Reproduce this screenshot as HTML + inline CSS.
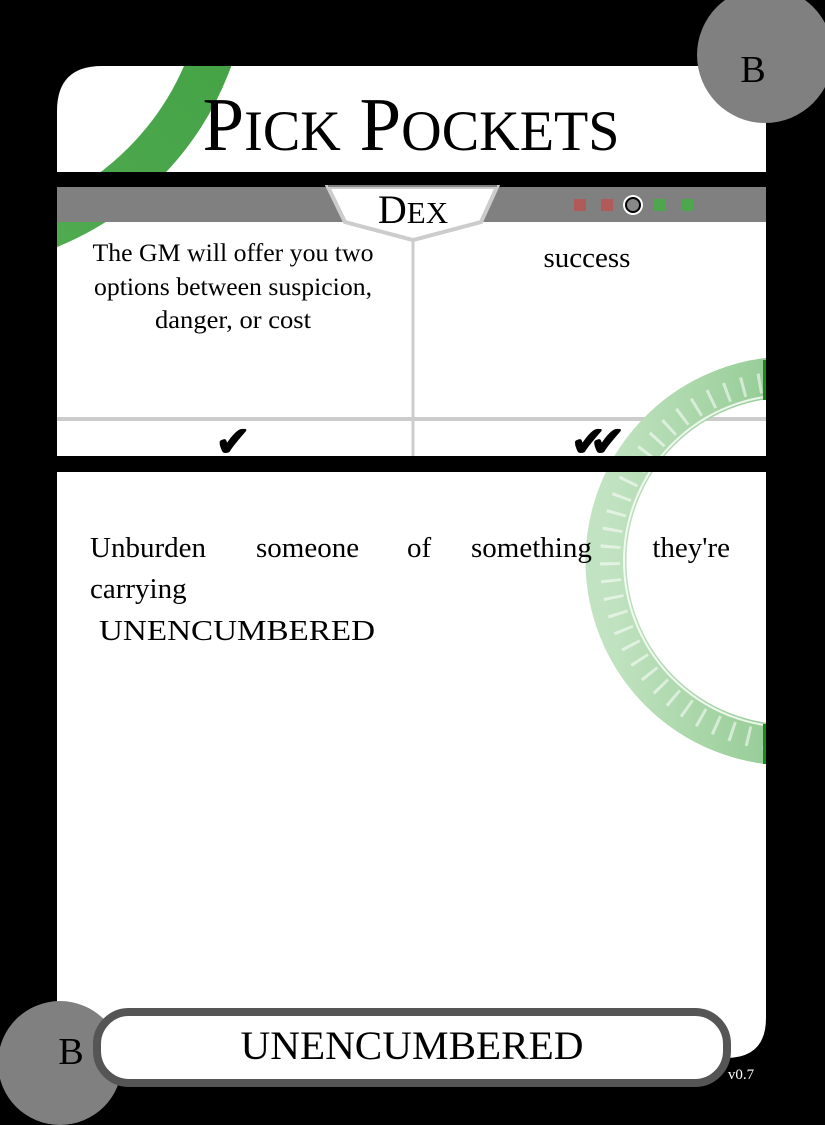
<!DOCTYPE html>
<html><head><meta charset="utf-8"><style>
html,body{margin:0;padding:0;background:#000;}
svg{display:block;}
text{font-family:"Liberation Serif",serif;}
</style></head><body>
<svg width="825" height="1125" viewBox="0 0 825 1125">
<defs>
<linearGradient id="gr1" x1="0" y1="1" x2="1" y2="0"><stop offset="0" stop-color="#5cb35c"/><stop offset="1" stop-color="#3a9a3a"/></linearGradient>
<linearGradient id="gr2" x1="0" y1="0.5" x2="1" y2="0.5"><stop offset="0" stop-color="#c2e3c2"/><stop offset="1" stop-color="#5fb05f"/></linearGradient>
<clipPath id="cardclip"><rect x="57" y="66" width="709" height="992"/></clipPath>
</defs>
<rect width="825" height="1125" fill="#000"/>
<path d="M57,172 V111 Q57,66 102,66 H766 V172 Z" fill="#fff"/>
<rect x="57" y="187" width="709" height="269" fill="#fff"/>
<path d="M57,472 H766 V1018 Q766,1058 726,1058 H57 Z" fill="#fff"/>
<g clip-path="url(#cardclip)">
 <clipPath id="c1"><rect x="57" y="66" width="709" height="106"/><rect x="57" y="187" width="709" height="269"/></clipPath>
 <circle cx="-60" cy="-40" r="288" fill="none" stroke="url(#gr1)" stroke-width="44" clip-path="url(#c1)"/>
</g>
<rect x="57" y="187" width="709" height="35" fill="#808080"/>
<polygon points="328,187 497,187 481,222 413,240 345,222" fill="#fff" stroke="#ccc" stroke-width="4"/>
<rect x="328" y="185" width="169" height="2" fill="#808080"/>
<text x="413" y="223" text-anchor="middle" font-size="40">D<tspan font-size="31">EX</tspan></text>
<rect x="574" y="199" width="12" height="12" fill="#b05a5a"/>
<rect x="601" y="199" width="12" height="12" fill="#b05a5a"/>
<circle cx="633" cy="205" r="10" fill="#fff"/>
<circle cx="633" cy="205" r="7" fill="#888" stroke="#000" stroke-width="2"/>
<rect x="654" y="199" width="12" height="12" fill="#4ea64e"/>
<rect x="681" y="199" width="12" height="12" fill="#4ea64e"/>
<line x1="413" y1="240" x2="413" y2="456" stroke="#ccc" stroke-width="3"/>
<line x1="57" y1="419" x2="766" y2="419" stroke="#ccc" stroke-width="4"/>
<g font-size="25" text-anchor="middle">
<text x="233" y="261" textLength="281" lengthAdjust="spacingAndGlyphs">The GM will offer you two</text>
<text x="233" y="295" textLength="278" lengthAdjust="spacingAndGlyphs">options between suspicion,</text>
<text x="233" y="328" textLength="156" lengthAdjust="spacingAndGlyphs">danger, or cost</text>
</g>
<text x="587" y="267" font-size="29" text-anchor="middle">success</text>
<text x="233" y="456" font-size="42" text-anchor="middle" font-family="DejaVu Sans" font-weight="bold">✔</text>
<text x="590" y="456" font-size="42" text-anchor="middle" font-family="DejaVu Sans" font-weight="bold" letter-spacing="-16">✔✔</text>
<g clip-path="url(#cardclip)">
 <clipPath id="c2"><rect x="57" y="187" width="709" height="269"/><rect x="57" y="472" width="709" height="586"/></clipPath>
 <g clip-path="url(#c2)">
  <circle cx="790" cy="561" r="184" fill="none" stroke="url(#gr2)" stroke-width="41"/>
  <circle cx="790" cy="561" r="166" fill="none" stroke="#fff" stroke-width="2" opacity="0.8"/>
  <circle cx="790" cy="561" r="180" fill="none" stroke="#fff" stroke-width="20" stroke-dasharray="3 14" opacity="0.55"/>
 </g>
</g>
<rect x="763" y="360" width="3" height="40" fill="#1a8a1a"/>
<rect x="763" y="724" width="3" height="40" fill="#1a8a1a"/>
<text x="411" y="150" font-size="76" text-anchor="middle" textLength="417" lengthAdjust="spacingAndGlyphs">P<tspan font-size="57">ICK</tspan> P<tspan font-size="57">OCKETS</tspan></text>
<g font-size="29">
<text x="90" y="557" textLength="281" lengthAdjust="spacingAndGlyphs" opacity="0"> </text>
<text x="90" y="557">Unburden</text>
<text x="256" y="557">someone</text>
<text x="407" y="557">of</text>
<text x="471" y="557">something</text>
<text x="730" y="557" text-anchor="end">they're</text>
<text x="90" y="598">carrying</text>
<text x="99" y="640" textLength="276" lengthAdjust="spacingAndGlyphs">UNENCUMBERED</text>
</g>
<circle cx="765" cy="55" r="68" fill="#808080"/>
<text x="753" y="82" font-size="38" text-anchor="middle">B</text>
<circle cx="60" cy="1063" r="62" fill="#808080"/>
<text x="71" y="1064" font-size="38" text-anchor="middle">B</text>
<rect x="97" y="1012" width="630" height="71" rx="32" fill="#fff" stroke="#555" stroke-width="8"/>
<text x="412" y="1059" font-size="40" text-anchor="middle" textLength="343" lengthAdjust="spacingAndGlyphs">UNENCUMBERED</text>
<text x="741" y="1079" font-size="15" text-anchor="middle" fill="#fff" font-family="DejaVu Sans">v0.7</text>
</svg>
</body></html>
